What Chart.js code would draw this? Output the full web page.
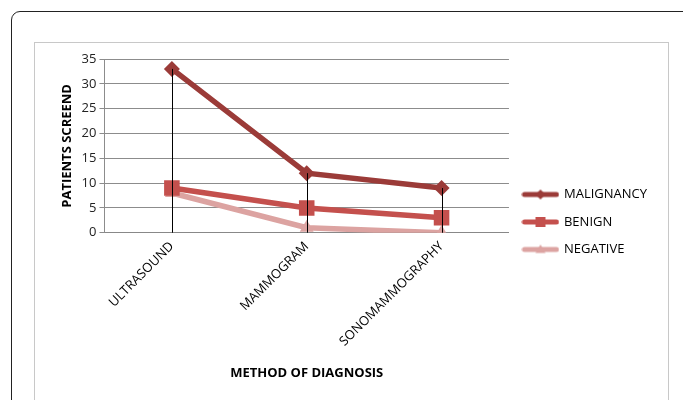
<!DOCTYPE html>
<html>
<head>
<meta charset="utf-8">
<script src="https://cdn.jsdelivr.net/npm/chart.js@4.4.1/dist/chart.umd.min.js"></script>
<style>
  html, body { margin: 0; padding: 0; background: #fff; width: 683px; height: 400px; overflow: hidden; }
  #outer { position: absolute; left: 11px; top: 11px; width: 700px; height: 420px; border: 1.5px solid #222; border-radius: 9px; }
  #inner { position: absolute; left: 34px; top: 42px; width: 633px; height: 400px; border: 1px solid #c8c8c8; }
  #wrap { position: absolute; left: 0; top: 0; width: 683px; height: 400px; }
</style>
</head>
<body>
<div id="outer"></div>
<div id="inner"></div>
<div id="wrap"><canvas id="c" width="683" height="400"></canvas></div>
<script>
const categories = ["ULTRASOUND", "MAMMOGRAM", "SONOMAMMOGRAPHY"];
const malignancy = [33, 12, 9];
const benign = [9, 5, 3];
const negative = [8, 1, 0];
const yTicks = [0, 5, 10, 15, 20, 25, 30, 35];

const colMal = "#9b3b38";
const colBen = "#c4504d";
const colNeg = "#dca3a1";
const FONT = "'Open Sans', 'Liberation Sans', sans-serif";

function legendImg(color, style, r) {
  const c = document.createElement('canvas');
  c.width = 38; c.height = 18;
  const ctx = c.getContext('2d');
  ctx.strokeStyle = color; ctx.fillStyle = color;
  ctx.lineWidth = 5; ctx.lineCap = 'round';
  ctx.beginPath(); ctx.moveTo(3, 9); ctx.lineTo(35, 9); ctx.stroke();
  ctx.beginPath();
  if (style === 'diamond') {
    ctx.moveTo(19, 9 - r); ctx.lineTo(19 + r, 9); ctx.lineTo(19, 9 + r); ctx.lineTo(19 - r, 9);
  } else if (style === 'square') {
    ctx.rect(19 - r, 9 - r, 2 * r, 2 * r);
  } else {
    ctx.moveTo(19, 9 - r); ctx.lineTo(19 + r, 9 + r * 0.7); ctx.lineTo(19 - r, 9 + r * 0.7);
  }
  ctx.closePath(); ctx.fill();
  return c;
}

const dropLines = {
  id: 'dropLines',
  afterDatasetsDraw(chart) {
    const { ctx, scales } = chart;
    const x = scales.x, y = scales.y;
    ctx.save();
    ctx.strokeStyle = '#000';
    ctx.lineWidth = 1;
    categories.forEach((cat, i) => {
      const maxV = Math.max(malignancy[i], benign[i], negative[i]);
      const px = Math.round(x.getPixelForValue(i)) + 0.5;
      ctx.beginPath();
      ctx.moveTo(px, y.getPixelForValue(maxV));
      ctx.lineTo(px, y.getPixelForValue(0));
      ctx.stroke();
    });
    ctx.restore();
  }
};

const legendImgs = [
  legendImg(colMal, 'diamond', 5),
  legendImg(colBen, 'square', 5),
  legendImg(colNeg, 'triangle', 5)
];

new Chart(document.getElementById('c'), {
  type: 'line',
  data: {
    labels: categories,
    datasets: [
      { label: 'MALIGNANCY', data: malignancy, borderColor: colMal, backgroundColor: colMal,
        borderWidth: 5.5, pointStyle: 'rectRot', pointRadius: 8, pointBorderWidth: 0, pointBackgroundColor: colMal, tension: 0 },
      { label: 'BENIGN', data: benign, borderColor: colBen, backgroundColor: colBen,
        borderWidth: 5.5, pointStyle: 'rect', pointRadius: 11, pointBorderWidth: 0, pointBackgroundColor: colBen, tension: 0 },
      { label: 'NEGATIVE', data: negative, borderColor: colNeg, backgroundColor: colNeg,
        borderWidth: 5.5, pointStyle: 'triangle', pointRadius: 8, pointBorderWidth: 0, pointBackgroundColor: colNeg, tension: 0 }
    ]
  },
  options: {
    responsive: false,
    animation: false,
    layout: { padding: { left: 55, right: 26, top: 59, bottom: 15 } },
    plugins: {
      tooltip: { enabled: false },
      legend: {
        position: 'right',
        align: 'center',
        labels: {
          usePointStyle: true,
          pointStyleWidth: 34,
          boxHeight: 12,
          padding: 14.5,
          color: '#000',
          font: { family: FONT, size: 13 },
          generateLabels(chart) {
            return chart.data.datasets.map((d, i) => ({
              text: d.label, pointStyle: legendImgs[i], datasetIndex: i,
              fillStyle: d.borderColor, strokeStyle: d.borderColor, lineWidth: 0, hidden: false, fontColor: '#000'
            }));
          }
        }
      }
    },
    scales: {
      x: {
        offset: true,
        grid: { display: false, drawTicks: false },
        border: { display: true, color: '#888' },
        ticks: { maxRotation: 45, minRotation: 45, color: '#000', padding: 6, font: { family: FONT, size: 13 } },
        title: { display: true, text: 'METHOD OF DIAGNOSIS', color: '#000', padding: { top: 10 }, font: { family: FONT, size: 13, weight: 'bold' } }
      },
      y: {
        min: 0, max: 35,
        afterBuildTicks(scale) { scale.ticks = yTicks.map(v => ({ value: v })); },
        grid: { color: '#8c8c8c', lineWidth: 1, tickLength: 5, drawTicks: true },
        border: { display: true, color: '#8c8c8c' },
        ticks: { color: '#222', padding: 3, font: { family: FONT, size: 13 } },
        title: { display: true, text: 'PATIENTS SCREEND', color: '#000', padding: { bottom: 4 }, font: { family: FONT, size: 13, weight: 'bold' } }
      }
    }
  },
  plugins: [dropLines]
});
</script>
</body>
</html>
